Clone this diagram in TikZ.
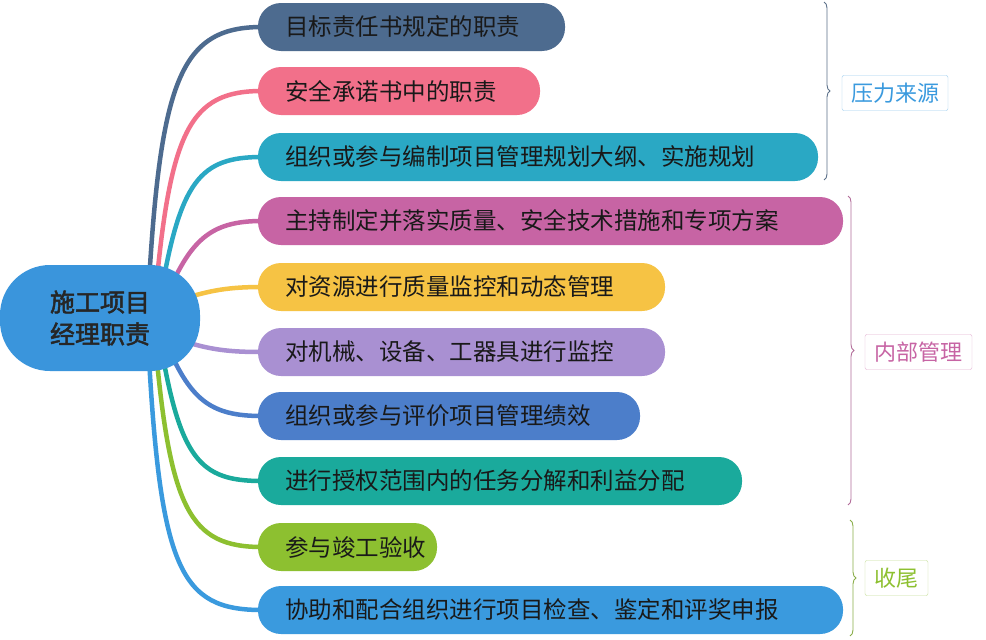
\documentclass[tikz,border=0pt]{standalone}
\usepackage{fontspec}
\setmainfont{Noto Sans CJK SC}[AutoFakeBold=2]
\usetikzlibrary{decorations.pathreplacing}
\definecolor{c1}{HTML}{4D6B8F}
\definecolor{c2}{HTML}{F2708A}
\definecolor{c3}{HTML}{2AA8C4}
\definecolor{c4}{HTML}{C764A4}
\definecolor{c5}{HTML}{F6C344}
\definecolor{c6}{HTML}{A990D2}
\definecolor{c7}{HTML}{4C7ECA}
\definecolor{c8}{HTML}{1AAA9C}
\definecolor{c9}{HTML}{8DC030}
\definecolor{c10}{HTML}{3A9ADE}
\definecolor{cc}{HTML}{3A95DC}
\tikzset{
 pill/.style={fill=#1, rounded corners=23pt, minimum height=48pt, inner ysep=0pt, inner xsep=27pt, align=left, font=\fontsize{23.5}{27}\selectfont, text=black!90},
 conn/.style={draw=#1, line width=4.5pt, line cap=round},
 lbl/.style={draw=#1!50, fill=white, text=#1, rounded corners=2pt, inner sep=3pt, minimum height=35pt, font=\fontsize{22}{25}\selectfont},
 br/.style={draw=#1!70!gray, line width=0.9pt, decorate, decoration={brace, amplitude=6pt}}
}
\begin{document}
\begin{tikzpicture}[x=1pt,y=-1pt]
\useasboundingbox (0,0) rectangle (986,640);
\fill[white] (0,0) rectangle (986,640);
\coordinate (s1) at (148,300);
\draw[conn=c1] (s1) .. controls (160,80) and (180,27) .. (262,27);
\draw[conn=c2] (155,300) .. controls (170,130) and (190,91) .. (262,91);
\draw[conn=c3] (160,300) .. controls (180,180) and (200,157) .. (262,157);
\draw[conn=c4] (165,300) .. controls (190,240) and (210,221) .. (262,221);
\draw[conn=c5] (180,300) .. controls (210,290) and (230,287) .. (262,287);
\draw[conn=c6] (180,340) .. controls (210,350) and (230,352) .. (262,352);
\draw[conn=c7] (165,340) .. controls (190,400) and (210,416) .. (262,416);
\draw[conn=c8] (160,340) .. controls (180,460) and (200,481) .. (262,481);
\draw[conn=c9] (155,340) .. controls (170,510) and (190,547) .. (262,547);
\draw[conn=c10] (148,340) .. controls (160,570) and (180,610) .. (262,610);
\node[fill=cc, rounded corners=50pt, minimum width=200pt, minimum height=106pt, align=center,
 font=\bfseries\fontsize{25}{32}\selectfont, text=black!85] (c) at (100,318) {施工项目\\经理职责};
\node[pill=c1, text width=253pt] (b1) at (411.5,27) {目标责任书规定的职责};
\node[pill=c2, text width=228pt] (b2) at (399,91) {安全承诺书中的职责};
\node[pill=c3, text width=506pt] (b3) at (538,157) {组织或参与编制项目管理规划大纲、实施规划};
\node[pill=c4, text width=531pt] (b4) at (550.5,221) {主持制定并落实质量、安全技术措施和专项方案};
\node[pill=c5, text width=353pt] (b5) at (461.5,287) {对资源进行质量监控和动态管理};
\node[pill=c6, text width=353pt] (b6) at (461.5,352) {对机械、设备、工器具进行监控};
\node[pill=c7, text width=328pt] (b7) at (449,416) {组织或参与评价项目管理绩效};
\node[pill=c8, text width=430pt] (b8) at (500,481) {进行授权范围内的任务分解和利益分配};
\node[pill=c9, text width=125pt] (b9) at (347.5,547) {参与竣工验收};
\node[pill=c10, text width=531pt] (b10) at (550.5,610) {协助和配合组织进行项目检查、鉴定和评奖申报};
\coordinate (t1) at (824,2); \coordinate (e1) at (824,180);
\draw[br=c1] (t1) -- (e1);
\coordinate (t2) at (848,196); \coordinate (e2) at (848,505);
\draw[br=c4] (t2) -- (e2);
\coordinate (t3) at (850,520); \coordinate (e3) at (850,636);
\draw[br=c9] (t3) -- (e3);
\node[lbl=c10, minimum width=106pt] (l1) at (895,93) {压力来源};
\node[lbl=c4, minimum width=107pt] (l2) at (918.5,352) {内部管理};
\node[lbl=c9, minimum width=63pt] (l3) at (896.5,578) {收尾};
\end{tikzpicture}
\end{document}
